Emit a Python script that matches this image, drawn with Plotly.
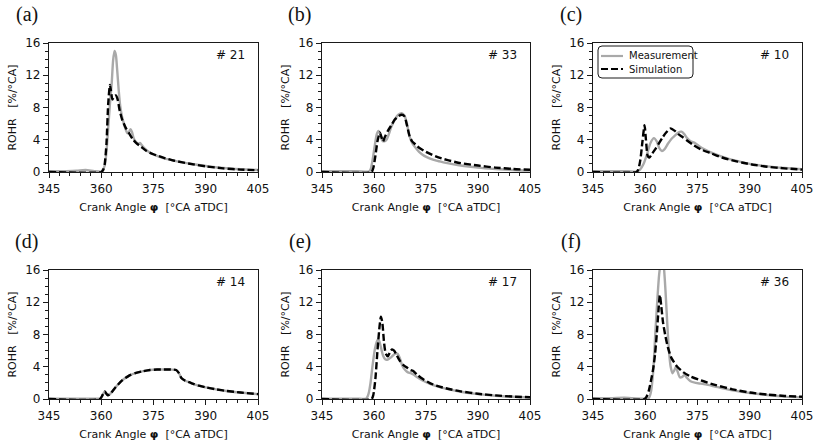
import plotly.graph_objects as go

# Rate of heat release (ROHR) vs crank angle, measurement vs simulation, six cases

# (a) case 21
ANGLE_A_MEAS = [345, 350, 353, 355.5, 358, 360, 360.5, 361, 361.5, 362, 362.5, 363, 363.4, 363.8, 364.2,
                364.6, 365, 365.5, 366, 366.5, 367, 367.5, 368, 368.4, 368.8, 369.3, 370, 370.6, 371.1,
                371.7, 372.5, 374, 376, 378, 380, 383, 386, 390, 395, 400, 405]
ROHR_A_MEAS = [0.1, 0.1, 0.15, 0.25, 0.1, 0.05, 0.3, 0.8, 2.5, 5.5, 8.5, 11.0, 13.8, 15.0, 14.5,
               12.5, 10.2, 8.0, 6.8, 6.0, 5.3, 4.8, 5.0, 5.3, 5.0, 4.2, 3.7, 3.5, 3.6,
               3.3, 2.9, 2.4, 2.0, 1.7, 1.5, 1.2, 1.0, 0.75, 0.5, 0.35, 0.25]
ANGLE_A_SIM = [345, 360, 360.6, 361, 361.5, 362, 362.5, 362.8, 363.2, 363.7, 364.2, 364.7, 365.3, 366,
               367, 368, 369, 370, 371.5, 373, 375, 378, 381, 385, 390, 395, 400, 405]
ROHR_A_SIM = [0, 0, 0.3, 1.0, 3.5, 8.5, 10.8, 10.0, 9.0, 9.4, 9.5, 9.0, 7.6, 6.5,
              5.5, 4.8, 4.1, 3.6, 3.1, 2.6, 2.2, 1.75, 1.4, 1.05, 0.7, 0.45, 0.3, 0.22]

# (b) case 33
ANGLE_B_MEAS = [345, 355, 358.5, 359, 359.6, 360.2, 360.8, 361.3, 361.8, 362.4, 363, 363.6, 364.2, 365,
                366, 367, 368, 368.8, 369.5, 370.2, 371, 372, 373, 374.5, 376, 378, 380, 383, 386,
                390, 395, 400, 405]
ROHR_B_MEAS = [0.1, 0.1, 0.05, 0.3, 1.5, 3.2, 4.7, 5.1, 4.7, 3.9, 3.8, 4.0, 4.6, 5.6,
               6.5, 7.1, 7.3, 7.0, 6.0, 4.5, 3.6, 3.0, 2.5, 2.0, 1.7, 1.4, 1.2, 0.95, 0.75,
               0.55, 0.38, 0.25, 0.18]
ANGLE_B_SIM = [345, 359.3, 359.8, 360.4, 361, 361.7, 362.1, 362.6, 363.1, 364, 365, 366, 367, 368,
               368.8, 369.5, 370.3, 371, 372, 373, 375, 378, 381, 385, 390, 395, 400, 405]
ROHR_B_SIM = [0, 0, 0.5, 2.0, 3.8, 4.9, 4.4, 3.8, 4.3, 5.1, 5.8, 6.5, 6.9, 7.1,
              6.9, 5.8, 4.4, 3.8, 3.4, 3.0, 2.5, 1.9, 1.5, 1.1, 0.8, 0.55, 0.38, 0.28]

# (c) case 10
ANGLE_C_MEAS = [345, 350, 355, 357.5, 358.5, 359.5, 360.5, 361.5, 362.5, 363.3, 364, 364.8, 365.5,
                366.5, 367.5, 368.5, 369.5, 370.4, 371.2, 372, 373, 374.3, 375.5, 377, 379, 382,
                385, 388, 391, 395, 400, 405]
ROHR_C_MEAS = [0.1, 0.1, 0.1, 0.05, 0.3, 1.0, 2.2, 3.6, 4.2, 3.8, 3.0, 2.6, 2.8,
               3.5, 4.1, 4.5, 4.9, 5.0, 4.7, 4.2, 3.8, 3.6, 3.2, 2.8, 2.4, 1.9,
               1.5, 1.2, 0.95, 0.7, 0.5, 0.35]
ANGLE_C_SIM = [345, 357.5, 358, 358.6, 359.2, 359.8, 360.2, 360.7, 361.2, 362, 363, 364, 365, 366,
               367.3, 368.5, 369.5, 370.5, 372, 374, 376, 379, 382, 385, 388, 391, 395, 400, 405]
ROHR_C_SIM = [0, 0, 0.3, 1.5, 3.8, 5.8, 4.0, 2.0, 1.8, 2.3, 2.9, 3.6, 4.3, 4.9,
              5.4, 5.1, 4.7, 4.4, 3.9, 3.3, 2.8, 2.3, 1.8, 1.45, 1.15, 0.9, 0.65, 0.45, 0.3]

# (d) case 14
ANGLE_D_MEAS = [345, 358, 359.8, 360.4, 361, 361.4, 361.9, 362.5, 364, 366, 368, 370, 372, 374, 376,
                378, 380, 381.5, 382.3, 383, 384, 386, 388, 390, 393, 396, 400, 405]
ROHR_D_MEAS = [0.05, 0.05, 0.05, 0.5, 0.95, 0.7, 0.5, 0.6, 1.4, 2.3, 2.9, 3.25, 3.45, 3.6, 3.65,
               3.65, 3.65, 3.6, 3.2, 2.6, 2.3, 1.95, 1.65, 1.45, 1.2, 1.0, 0.8, 0.6]
ANGLE_D_SIM = [345, 359.6, 360.4, 361, 361.4, 361.9, 362.5, 364, 366, 368, 370, 372, 374, 376,
               378, 380, 381.5, 382.3, 383, 384, 386, 388, 390, 393, 396, 400, 405]
ROHR_D_SIM = [0, 0, 0.5, 0.95, 0.7, 0.45, 0.6, 1.4, 2.3, 2.9, 3.25, 3.45, 3.6, 3.65,
              3.65, 3.65, 3.6, 3.2, 2.6, 2.3, 1.95, 1.65, 1.45, 1.2, 1.0, 0.8, 0.6]

# (e) case 17
ANGLE_E_MEAS = [345, 355, 357.8, 358.4, 359, 359.6, 360.3, 361, 361.5, 362, 362.6, 363.3, 364, 365,
                366, 366.8, 367.5, 368.2, 369, 369.8, 370.6, 371.5, 372.5, 374, 376, 378, 381,
                385, 390, 395, 400, 405]
ROHR_E_MEAS = [0.05, 0.05, 0.05, 0.6, 2.0, 4.2, 6.3, 7.3, 7.2, 6.4, 5.4, 4.9, 4.9, 5.2,
               5.6, 5.6, 5.0, 4.1, 3.6, 3.3, 3.2, 3.0, 2.7, 2.3, 1.9, 1.6, 1.25,
               0.9, 0.6, 0.4, 0.27, 0.2]
ANGLE_E_SIM = [345, 359.3, 359.8, 360.4, 361, 361.6, 362, 362.4, 362.9, 363.4, 364, 364.6, 365.2,
               365.8, 366.6, 367.5, 368.5, 369.5, 370.5, 371.2, 372.5, 374, 376, 378, 381, 385,
               390, 395, 400, 405]
ROHR_E_SIM = [0, 0, 0.5, 2.5, 6.0, 9.0, 10.2, 9.5, 7.0, 5.6, 5.3, 5.8, 6.15,
              6.0, 5.4, 4.7, 4.2, 3.9, 3.6, 3.5, 3.0, 2.5, 2.0, 1.65, 1.3, 0.95,
              0.65, 0.45, 0.3, 0.22]

# (f) case 36
ANGLE_F_MEAS = [345, 350, 354, 356, 359, 361, 361.6, 362.3, 362.9, 363.5, 364, 364.7, 365.3, 365.8,
                366.3, 366.8, 367.3, 367.8, 368.3, 368.8, 369.3, 369.9, 370.5, 371.3, 372, 373,
                374.5, 376, 378, 380, 383, 386, 390, 395, 400, 405]
ROHR_F_MEAS = [0.1, 0.1, 0.15, 0.1, 0.05, 0.1, 0.8, 3.5, 8.2, 12.5, 15.5, 17.5, 16.5, 13.5,
               9.5, 6.0, 4.0, 3.2, 3.5, 4.0, 3.4, 2.7, 2.7, 3.0, 2.6, 2.2,
               2.0, 1.9, 1.75, 1.55, 1.25, 1.0, 0.75, 0.5, 0.3, 0.2]
ANGLE_F_SIM = [345, 359.8, 360.4, 361, 361.7, 362.3, 362.8, 363.3, 363.8, 364.2, 364.6, 365.1, 365.7,
               366.5, 367.5, 369, 371, 373, 376, 380, 385, 390, 395, 400, 405]
ROHR_F_SIM = [0, 0, 0.3, 1.0, 2.4, 3.8, 5.5, 8.0, 11.0, 12.9, 11.5, 9.5, 8.0,
              6.4, 5.1, 4.1, 3.3, 2.8, 2.3, 1.75, 1.2, 0.8, 0.55, 0.38, 0.28]

PANEL_LABELS = ["(a)", "(b)", "(c)", "(d)", "(e)", "(f)"]
CASE_LABELS = ["# 21", "# 33", "# 10", "# 14", "# 17", "# 36"]
SERIES_NAMES = ["Measurement", "Simulation"]
X_TICKS = [345, 360, 375, 390, 405]
Y_TICKS = [0, 4, 8, 12, 16]

PANELS = [
    (ANGLE_A_MEAS, ROHR_A_MEAS, ANGLE_A_SIM, ROHR_A_SIM),
    (ANGLE_B_MEAS, ROHR_B_MEAS, ANGLE_B_SIM, ROHR_B_SIM),
    (ANGLE_C_MEAS, ROHR_C_MEAS, ANGLE_C_SIM, ROHR_C_SIM),
    (ANGLE_D_MEAS, ROHR_D_MEAS, ANGLE_D_SIM, ROHR_D_SIM),
    (ANGLE_E_MEAS, ROHR_E_MEAS, ANGLE_E_SIM, ROHR_E_SIM),
    (ANGLE_F_MEAS, ROHR_F_MEAS, ANGLE_F_SIM, ROHR_F_SIM),
]

W, H = 817, 445
COL_PX = [(49, 258), (322, 530), (593, 802)]
ROW_PX = [(43, 172), (270, 399)]
FONT = "DejaVu Sans"
AXIS_COLOR = "#1a1a1a"
TEXT_COLOR = "#111"
MEAS_LINE = dict(color="#a9a9a9", width=2.4)
SIM_LINE = dict(color="black", width=2.4, dash="7px,3px")

fig = go.Figure()
layout = {}

for i, (mx, my, sx, sy) in enumerate(PANELS):
    n = i + 1
    row, col = divmod(i, 3)
    suffix = "" if n == 1 else str(n)
    xa, ya = "x" + suffix, "y" + suffix

    fig.add_trace(go.Scatter(
        x=mx, y=my, mode="lines", name=SERIES_NAMES[0],
        line=dict(MEAS_LINE, shape="spline", smoothing=0.6),
        showlegend=False, xaxis=xa, yaxis=ya,
    ))
    fig.add_trace(go.Scatter(
        x=sx, y=sy, mode="lines", name=SERIES_NAMES[1],
        line=dict(SIM_LINE, shape="spline", smoothing=0.6),
        showlegend=False, xaxis=xa, yaxis=ya,
    ))

    x0, x1 = COL_PX[col]
    top, bottom = ROW_PX[row]
    common = dict(
        showline=True, mirror=True, linecolor=AXIS_COLOR, linewidth=1.3,
        showgrid=False, zeroline=False, ticks="outside", ticklen=5, tickwidth=1,
        tickcolor=AXIS_COLOR, automargin=False,
        tickfont=dict(family=FONT, size=12, color=TEXT_COLOR),
    )
    layout["xaxis" + suffix] = dict(
        common, domain=[x0 / W, x1 / W], anchor=ya, range=[345, 405],
        tickvals=X_TICKS,
        minor=dict(dtick=3, ticks="outside", ticklen=3, tickcolor=AXIS_COLOR),
        title=dict(text="Crank Angle <b>φ</b>\u00a0\u00a0[°CA aTDC]", standoff=8,
                   font=dict(family=FONT, size=11, color=TEXT_COLOR)),
    )
    layout["yaxis" + suffix] = dict(
        common, domain=[1 - bottom / H, 1 - top / H], anchor=xa, range=[0, 16],
        tickvals=Y_TICKS,
        minor=dict(dtick=1, ticks="outside", ticklen=3, tickcolor=AXIS_COLOR),
        title=dict(text="ROHR\u00a0\u00a0\u00a0[%/°CA]", standoff=6,
                   font=dict(family=FONT, size=11, color=TEXT_COLOR)),
    )

    fig.add_annotation(
        text=CASE_LABELS[i], xref=xa + " domain", yref=ya + " domain",
        x=0.947, y=0.907, xanchor="right", yanchor="middle", showarrow=False,
        font=dict(family=FONT, size=12, color=TEXT_COLOR),
    )
    fig.add_annotation(
        text=PANEL_LABELS[i], xref=xa + " domain", yref=ya + " domain",
        x=-0.107, y=1.22, xanchor="center", yanchor="middle", showarrow=False,
        font=dict(family="Liberation Serif", size=20, color=TEXT_COLOR),
    )

# legend of panel (c), drawn by hand so its rows sit as tight as in the original
bx0, bx1, by0, by1, rad = 598, 693, 46, 78, 4
rx, ry = rad / W, rad / H
px0, px1 = bx0 / W, bx1 / W
py0, py1 = 1 - by1 / H, 1 - by0 / H
frame = (f"M {px0 + rx} {py1} L {px1 - rx} {py1} Q {px1} {py1} {px1} {py1 - ry} "
         f"L {px1} {py0 + ry} Q {px1} {py0} {px1 - rx} {py0} "
         f"L {px0 + rx} {py0} Q {px0} {py0} {px0} {py0 + ry} "
         f"L {px0} {py1 - ry} Q {px0} {py1} {px0 + rx} {py1} Z")
fig.add_shape(type="path", path=frame, xref="paper", yref="paper",
              line=dict(color=AXIS_COLOR, width=1), fillcolor="white")
for k, (name, style) in enumerate(zip(SERIES_NAMES, [MEAS_LINE, SIM_LINE])):
    yk = 1 - (56 + 13 * k) / H
    fig.add_shape(type="line", xref="paper", yref="paper",
                  x0=601 / W, x1=623 / W, y0=yk, y1=yk,
                  line=dict(color=style["color"], width=2.2, dash=style.get("dash", "solid")))
    fig.add_annotation(text=name, xref="paper", yref="paper", x=627 / W, y=yk,
                       xanchor="left", yanchor="middle", showarrow=False,
                       font=dict(family=FONT, size=10, color=TEXT_COLOR))

fig.update_layout(
    **layout,
    width=W, height=H,
    margin=dict(l=0, r=0, t=0, b=0),
    paper_bgcolor="white", plot_bgcolor="white",
    showlegend=False,
)

# the page's default body margin would push the fixed-size figure off the window
fig.write_html("out.html", config={"displayModeBar": False},
               post_script="document.body.style.margin = '0';")
